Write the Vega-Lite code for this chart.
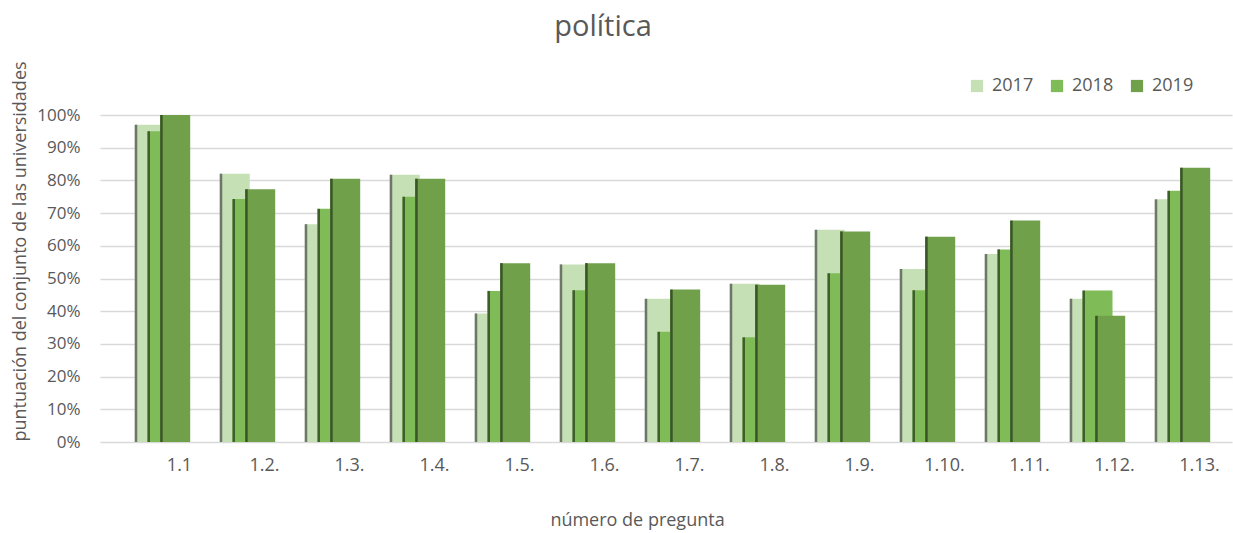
{
  "$schema": "https://vega.github.io/schema/vega-lite/v6.json",
  "width": 1132,
  "height": 327,
  "autosize": {"type": "none"},
  "padding": {"left": 100, "top": 115, "right": 1, "bottom": 91},
  "background": "white",
  "config": {
    "font": "Open Sans",
    "view": {"stroke": null},
    "legend": {
      "orient": "none",
      "legendX": 868,
      "legendY": -38,
      "direction": "horizontal",
      "symbolType": "square",
      "symbolSize": 150,
      "symbolStrokeWidth": 0,
      "labelFontSize": 18,
      "labelColor": "#595959",
      "columnPadding": 14,
      "labelOffset": 6
    }
  },
  "title": {
    "text": "política",
    "fontSize": 29,
    "fontWeight": "normal",
    "color": "#595959",
    "frame": "group",
    "anchor": "middle",
    "dx": -63,
    "baseline": "alphabetic",
    "offset": -4
  },
  "data": {
    "values": [
      {"q": "1.1", "year": "2017", "v": 0.97},
      {"q": "1.1", "year": "2018", "v": 0.95},
      {"q": "1.1", "year": "2019", "v": 1.0},
      {"q": "1.2.", "year": "2017", "v": 0.82},
      {"q": "1.2.", "year": "2018", "v": 0.743},
      {"q": "1.2.", "year": "2019", "v": 0.773},
      {"q": "1.3.", "year": "2017", "v": 0.666},
      {"q": "1.3.", "year": "2018", "v": 0.713},
      {"q": "1.3.", "year": "2019", "v": 0.805},
      {"q": "1.4.", "year": "2017", "v": 0.817},
      {"q": "1.4.", "year": "2018", "v": 0.75},
      {"q": "1.4.", "year": "2019", "v": 0.805},
      {"q": "1.5.", "year": "2017", "v": 0.393},
      {"q": "1.5.", "year": "2018", "v": 0.462},
      {"q": "1.5.", "year": "2019", "v": 0.547},
      {"q": "1.6.", "year": "2017", "v": 0.543},
      {"q": "1.6.", "year": "2018", "v": 0.464},
      {"q": "1.6.", "year": "2019", "v": 0.547},
      {"q": "1.7.", "year": "2017", "v": 0.438},
      {"q": "1.7.", "year": "2018", "v": 0.337},
      {"q": "1.7.", "year": "2019", "v": 0.466},
      {"q": "1.8.", "year": "2017", "v": 0.484},
      {"q": "1.8.", "year": "2018", "v": 0.32},
      {"q": "1.8.", "year": "2019", "v": 0.481},
      {"q": "1.9.", "year": "2017", "v": 0.649},
      {"q": "1.9.", "year": "2018", "v": 0.516},
      {"q": "1.9.", "year": "2019", "v": 0.644},
      {"q": "1.10.", "year": "2017", "v": 0.529},
      {"q": "1.10.", "year": "2018", "v": 0.464},
      {"q": "1.10.", "year": "2019", "v": 0.628},
      {"q": "1.11.", "year": "2017", "v": 0.575},
      {"q": "1.11.", "year": "2018", "v": 0.589},
      {"q": "1.11.", "year": "2019", "v": 0.677},
      {"q": "1.12.", "year": "2017", "v": 0.438},
      {"q": "1.12.", "year": "2018", "v": 0.463},
      {"q": "1.12.", "year": "2019", "v": 0.386},
      {"q": "1.13.", "year": "2017", "v": 0.742},
      {"q": "1.13.", "year": "2018", "v": 0.768},
      {"q": "1.13.", "year": "2019", "v": 0.839}
    ]
  },
  "encoding": {
    "x": {
      "field": "q",
      "type": "nominal",
      "sort": null,
      "scale": {"paddingInner": 0, "paddingOuter": 0.1588, "align": 1},
      "axis": {
        "labelAngle": 0,
        "labelOffset": 10,
        "labelPadding": 14,
        "labelFontSize": 18,
        "labelColor": "#595959",
        "domain": false,
        "ticks": false,
        "grid": false,
        "title": "número de pregunta",
        "titleFontSize": 18,
        "titleFontWeight": "normal",
        "titleColor": "#595959",
        "titleX": 537,
        "titleY": 78,
        "titleBaseline": "middle",
        "titleAlign": "center"
      }
    },
    "y": {
      "field": "v",
      "type": "quantitative",
      "scale": {"domain": [0, 1]},
      "axis": {
        "values": [0, 0.1, 0.2, 0.3, 0.4, 0.5, 0.6, 0.7, 0.8, 0.9, 1.0],
        "format": ".0%",
        "grid": true,
        "gridColor": "#d9d9d9",
        "gridWidth": 1.5,
        "domain": false,
        "ticks": false,
        "labelPadding": 20,
        "labelFontSize": 17,
        "labelColor": "#595959",
        "title": "puntuación del conjunto de las universidades",
        "titleFontSize": 18,
        "titleFontWeight": "normal",
        "titleColor": "#595959",
        "titleX": -80,
        "titleY": 136,
        "titleAngle": -90,
        "titleBaseline": "middle",
        "titleAlign": "center"
      }
    }
  },
  "layer": [
    {
      "transform": [{"filter": "datum.year == '2017'"}],
      "mark": {"type": "bar", "width": 30, "xOffset": -19.75},
      "encoding": {
        "color": {
          "field": "year",
          "type": "nominal",
          "title": null,
          "scale": {"domain": ["2017", "2018", "2019"], "range": ["#c5e0b4", "#7fbc58", "#70a04a"]},
          "legend": {
            "encode": {
              "symbols": {"update": {"fill": {"signal": "datum.value == '2017' ? '#a9d18e' : datum.value == '2018' ? '#70ad47' : '#548235'"}}}
            }
          }
        }
      }
    },
    {
      "transform": [{"filter": "datum.year == '2017'"}],
      "mark": {"type": "bar", "width": 2.5, "xOffset": -33.5, "color": "#6e7569"}
    },
    {
      "transform": [{"filter": "datum.year == '2018'"}],
      "mark": {"type": "bar", "width": 30, "xOffset": -7},
      "encoding": {
        "color": {"field": "year", "type": "nominal", "title": null}
      }
    },
    {
      "transform": [{"filter": "datum.year == '2018'"}],
      "mark": {"type": "bar", "width": 2.5, "xOffset": -20.75, "color": "#3f5e2c"}
    },
    {
      "transform": [{"filter": "datum.year == '2019'"}],
      "mark": {"type": "bar", "width": 30, "xOffset": 5.7},
      "encoding": {
        "color": {"field": "year", "type": "nominal", "title": null}
      }
    },
    {
      "transform": [{"filter": "datum.year == '2019'"}],
      "mark": {"type": "bar", "width": 2.5, "xOffset": -8.05, "color": "#3a5627"}
    }
  ]
}
